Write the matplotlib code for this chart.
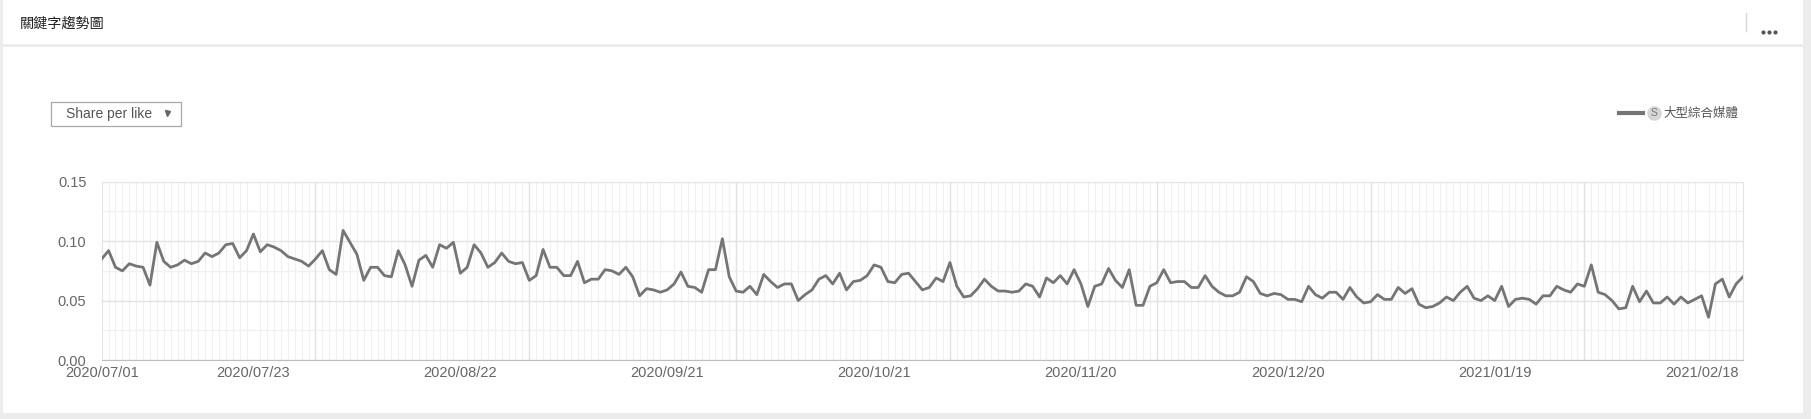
import numpy as np
import pandas as pd
import matplotlib
matplotlib.use("Agg")
import matplotlib.pyplot as plt
import matplotlib.dates as mdates
from matplotlib.patches import Rectangle
from matplotlib.lines import Line2D

# daily "Share per like" values, one list per month (2020/07/01 .. 2021/02/24)
jul = [0.085, 0.092, 0.078, 0.075, 0.081, 0.079, 0.078, 0.063, 0.099, 0.083,
       0.078, 0.080, 0.084, 0.081, 0.083, 0.090, 0.087, 0.090, 0.097, 0.098,
       0.086, 0.092, 0.106, 0.091, 0.097, 0.095, 0.092, 0.087, 0.085, 0.083,
       0.079]
aug = [0.085, 0.092, 0.076, 0.072, 0.109, 0.099, 0.089, 0.067, 0.078, 0.078,
       0.071, 0.070, 0.092, 0.080, 0.062, 0.084, 0.088, 0.078, 0.097, 0.094,
       0.099, 0.073, 0.078, 0.097, 0.090, 0.078, 0.082, 0.090, 0.083, 0.081,
       0.082]
sep = [0.067, 0.071, 0.093, 0.078, 0.078, 0.071, 0.071, 0.083, 0.065, 0.068,
       0.068, 0.076, 0.075, 0.072, 0.078, 0.070, 0.054, 0.060, 0.059, 0.057,
       0.059, 0.064, 0.074, 0.062, 0.061, 0.057, 0.076, 0.076, 0.102, 0.070]
oct = [0.058, 0.057, 0.062, 0.055, 0.072, 0.066, 0.061, 0.064, 0.064, 0.050,
       0.055, 0.059, 0.068, 0.071, 0.064, 0.073, 0.059, 0.066, 0.067, 0.071,
       0.080, 0.078, 0.066, 0.065, 0.072, 0.073, 0.066, 0.059, 0.061, 0.069,
       0.066]
nov = [0.082, 0.062, 0.053, 0.054, 0.060, 0.068, 0.062, 0.058, 0.058, 0.057,
       0.058, 0.064, 0.062, 0.053, 0.069, 0.065, 0.071, 0.064, 0.076, 0.064,
       0.045, 0.062, 0.064, 0.077, 0.067, 0.061, 0.076, 0.046, 0.046, 0.062]
dec = [0.065, 0.076, 0.065, 0.066, 0.066, 0.061, 0.061, 0.071, 0.062, 0.057,
       0.054, 0.054, 0.057, 0.070, 0.066, 0.056, 0.054, 0.056, 0.055, 0.051,
       0.051, 0.049, 0.062, 0.055, 0.052, 0.057, 0.057, 0.051, 0.061, 0.053,
       0.048]
jan = [0.049, 0.055, 0.051, 0.051, 0.061, 0.056, 0.060, 0.047, 0.044, 0.045,
       0.048, 0.053, 0.050, 0.057, 0.062, 0.052, 0.050, 0.054, 0.050, 0.062,
       0.045, 0.051, 0.052, 0.051, 0.047, 0.054, 0.054, 0.062, 0.059, 0.057,
       0.064]
feb = [0.062, 0.080, 0.057, 0.055, 0.050, 0.043, 0.044, 0.062, 0.049, 0.058,
       0.048, 0.048, 0.053, 0.047, 0.053, 0.048, 0.051, 0.054, 0.036, 0.064,
       0.068, 0.053, 0.064, 0.070]

tick_labels = ["2020/07/01", "2020/07/23", "2020/08/22", "2020/09/21", "2020/10/21",
               "2020/11/20", "2020/12/20", "2021/01/19", "2021/02/18"]
y_ticks = [0.00, 0.05, 0.10, 0.15]
series_name = "大型綜合媒體"
title = "關鍵字趨勢圖"
metric = "Share per like"

values = jul + aug + sep + oct + nov + dec + jan + feb
fechas = pd.date_range("2020-07-01", periods=len(values), freq="D")

W, H = 1811, 419
fig = plt.figure(figsize=(W / 100, H / 100), dpi=100)
fig.patch.set_facecolor("#ececec")

def fx(x):
    return x / W

def fy(y):
    return 1 - y / H

# cards (header + body)
fig.add_artist(Rectangle((fx(3), fy(44)), fx(1800), 44 / H, transform=fig.transFigure,
                         facecolor="white", edgecolor="none", zorder=0))
fig.add_artist(Rectangle((fx(3), fy(413)), fx(1800), 366 / H, transform=fig.transFigure,
                         facecolor="white", edgecolor="none", zorder=0))

cjk = ["Noto Sans CJK TC", "DejaVu Sans"]
fig.text(fx(20), fy(24), title, fontsize=10.2, color="#222222", family=cjk, va="center")
fig.add_artist(Line2D([fx(1746), fx(1746)], [fy(13), fy(31)], transform=fig.transFigure,
                      color="#d8d8d8", lw=1))
fig.add_artist(Line2D([fx(1763), fx(1769), fx(1775)], [fy(32)] * 3, transform=fig.transFigure,
                      linestyle="none", marker="o", markersize=2.0, color="#555555"))

# dropdown
fig.add_artist(Rectangle((fx(51), fy(126)), fx(130), 24 / H, transform=fig.transFigure,
                         facecolor="white", edgecolor="#a8a8a8", lw=0.9))
fig.text(fx(66), fy(114), metric, fontsize=10, color="#555555", family="Liberation Sans",
         va="center")
fig.add_artist(Line2D([fx(167)], [fy(113.5)], transform=fig.transFigure, marker="v",
                      markersize=3.6, color="#666666", linestyle="none"))

# legend
fig.add_artist(Line2D([fx(1619), fx(1643)], [fy(113), fy(113)], transform=fig.transFigure,
                      color="#757575", lw=3))
fig.add_artist(Line2D([fx(1654)], [fy(113)], transform=fig.transFigure, marker="o",
                      markersize=10.5, markerfacecolor="#d6d6d6", markeredgecolor="none",
                      linestyle="none"))
fig.text(fx(1654), fy(112.5), "S", fontsize=7.5, color="#777777", ha="center", va="center",
         family="Liberation Sans")
fig.text(fx(1663), fy(113), series_name, fontsize=9, color="#555555", family=cjk, va="center")

# plot
ax = fig.add_axes([fx(101.7), fy(360), fx(1743 - 101.7), (360 - 181.7) / H])
ax.plot(fechas, values, color="#757575", lw=2, zorder=3)

ax.set_xlim(fechas[0], fechas[-1])
ax.set_ylim(0, 0.15)

ax.set_yticks(y_ticks)
ax.set_yticklabels([f"{v:.2f}" for v in y_ticks])
ax.yaxis.set_minor_locator(plt.MultipleLocator(0.025))

ax.set_xticks(pd.to_datetime(tick_labels, format="%Y/%m/%d"))
ax.set_xticklabels(tick_labels)
ax.xaxis.set_minor_locator(mdates.DayLocator())

ax.tick_params(which="both", length=0)
ax.tick_params(axis="y", pad=11, labelsize=10.5, labelcolor="#666666")
ax.tick_params(axis="x", pad=4, labelsize=10.5, labelcolor="#666666")
for lbl in ax.get_xticklabels() + ax.get_yticklabels():
    lbl.set_family("Liberation Sans")

ax.grid(which="major", axis="y", color="#e4e4e4", lw=1)
ax.grid(which="minor", axis="y", color="#f1f1f1", lw=1)
ax.grid(which="minor", axis="x", color="#f0f0f0", lw=0.8)
for m in pd.date_range(fechas[0], fechas[-1], freq="MS")[1:]:
    ax.axvline(m, color="#e2e2e2", lw=1, zorder=1)
ax.set_axisbelow(True)

for s in ["top", "right", "left"]:
    ax.spines[s].set_color("#e4e4e4")
ax.spines["top"].set_visible(False)
ax.spines["bottom"].set_color("#bdbdbd")

fig.savefig("out.png", dpi=100, facecolor=fig.get_facecolor())
